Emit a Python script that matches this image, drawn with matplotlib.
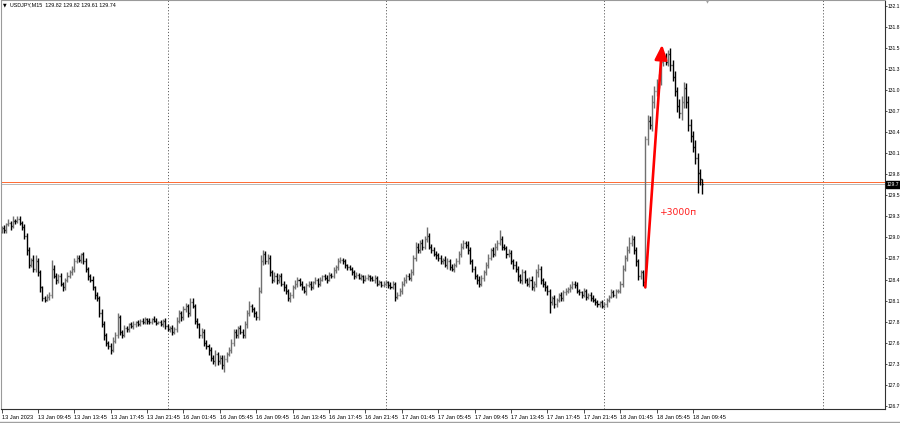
import numpy as np
import matplotlib
matplotlib.use("Agg")
import matplotlib.pyplot as plt
from matplotlib.collections import LineCollection
from matplotlib.lines import Line2D

# ---------------- data ----------------
header_text = "USDJPY,M15  129.82 129.82 129.61 129.74"
first_open = 129.10

close_13 = [129.15, 129.12, 129.20, 129.22, 129.18, 129.25, 129.24, 129.28, 129.22, 129.16,
            129.05, 128.85, 128.65, 128.72, 128.60, 128.70, 128.55, 128.35, 128.20, 128.18, 128.22, 128.25,
            128.60, 128.50, 128.45, 128.50, 128.40, 128.35, 128.45, 128.50, 128.55, 128.60, 128.70, 128.75, 128.72, 128.80,
            128.70, 128.60, 128.50, 128.45, 128.35, 128.25, 128.20, 128.00, 127.85, 127.70, 127.60, 127.55, 127.50, 127.62,
            127.70, 127.95, 127.75, 127.70, 127.80, 127.78, 127.85, 127.82, 127.85, 127.88, 127.85, 127.90,
            127.88, 127.92, 127.90, 127.88, 127.92, 127.90, 127.87, 127.88, 127.85, 127.90, 127.82]
close_16 = [127.78, 127.80, 127.75, 127.78,
            127.90, 128.00, 127.95, 128.05, 128.10, 128.00, 128.15, 128.10,
            127.90, 127.85, 127.70, 127.75, 127.60, 127.55, 127.50,
            127.40, 127.35, 127.45, 127.35, 127.40, 127.30, 127.38,
            127.45, 127.50, 127.60, 127.75, 127.70, 127.80, 127.75,
            127.70, 127.85, 128.00, 128.10, 128.05, 128.00, 127.95,
            128.30, 128.70, 128.80, 128.70, 128.75,
            128.55, 128.45, 128.50, 128.45, 128.50, 128.40, 128.35, 128.30,
            128.20, 128.25, 128.35, 128.40, 128.45,
            128.40, 128.35, 128.30, 128.38, 128.40, 128.35, 128.42, 128.45, 128.40, 128.45, 128.50, 128.48, 128.45, 128.52, 128.50,
            128.58, 128.62, 128.70, 128.72, 128.70, 128.65, 128.62,
            128.60, 128.55, 128.50, 128.52, 128.48, 128.50, 128.45, 128.48, 128.50, 128.47, 128.45, 128.48, 128.40, 128.42, 128.38, 128.40]
close_17 = [128.42, 128.38, 128.35, 128.40, 128.22,
            128.25, 128.30, 128.40, 128.45, 128.50, 128.48,
            128.55, 128.75, 128.90, 128.85, 128.95, 128.90, 129.00,
            129.05,
            128.90, 128.85, 128.80, 128.78, 128.75, 128.70, 128.72, 128.65, 128.70, 128.62, 128.60, 128.65, 128.70,
            128.80, 128.90, 128.95, 128.92, 128.85, 128.70, 128.60,
            128.50, 128.45, 128.40, 128.48, 128.55,
            128.65, 128.75, 128.85, 128.80, 128.90, 128.95, 129.00,
            128.90, 128.88, 128.80, 128.82, 128.70, 128.65, 128.60, 128.50, 128.45, 128.55, 128.45, 128.40, 128.45, 128.35,
            128.40, 128.55, 128.60, 128.45, 128.40, 128.35, 128.30,
            128.15,
            128.20, 128.12, 128.18, 128.25, 128.20, 128.28, 128.30, 128.32, 128.35, 128.40, 128.38, 128.30,
            128.28, 128.25, 128.30, 128.22, 128.25, 128.20, 128.18, 128.15, 128.12, 128.15, 128.10]
close_18 = [128.12, 128.18, 128.22, 128.28, 128.25, 128.30, 128.30,
            128.40, 128.60, 128.75, 128.85, 128.95,
            129.00, 128.85, 128.70, 128.50, 128.55, 128.42,
            130.35, 130.60, 130.55, 130.85, 131.00, 131.10, 131.15,
            131.40, 131.45, 131.40, 131.50, 131.35,
            131.20, 131.00, 130.80, 130.70, 130.85, 131.05, 130.85,
            130.55, 130.40, 130.25, 130.10, 129.90, 129.82, 129.74]

# wick extents above / below the bar body, in 0.01 yen
wick_up_13 = [3, 4, 2, 5, 3, 6, 2, 4, 3, 2,
              4, 3, 5, 3, 6, 8, 4, 3, 2, 3, 4, 3,
              12, 5, 4, 3, 4, 2, 3, 5, 3, 4, 5, 3, 4, 2,
              3, 4, 2, 3, 5, 2, 4, 3, 5, 4, 3, 2, 4, 6,
              4, 5, 3, 2, 4, 3, 2, 3, 4, 2, 3, 2, 4, 3, 2, 3, 2, 4, 3, 2, 3, 2, 3]
wick_dn_13 = [2, 3, 4, 2, 5, 3, 4, 2, 3, 4,
              5, 6, 4, 3, 5, 4, 5, 6, 4, 3, 2, 4,
              4, 3, 5, 4, 3, 5, 4, 3, 2, 3, 4, 2, 3, 4,
              3, 4, 5, 3, 4, 6, 3, 5, 4, 6, 5, 4, 5, 3,
              3, 4, 5, 3, 2, 4, 3, 2, 3, 4, 2, 3, 2, 3, 4, 2, 3, 2, 3, 2, 3, 4, 3]
wick_up_16 = [3, 2, 4, 3,
              5, 4, 3, 5, 4, 3, 6, 5,
              3, 4, 2, 5, 3, 4, 3,
              4, 3, 5, 3, 4, 3, 6,
              3, 4, 5, 3, 4, 3, 4,
              3, 5, 4, 6, 3, 4, 3,
              5, 8, 6, 4, 5,
              4, 3, 5, 4, 3, 4, 3, 5,
              3, 4, 3, 5, 4,
              3, 4, 2, 3, 4, 3, 2, 4, 3, 4, 2, 3, 4, 3, 2,
              4, 3, 5, 4, 3, 3, 2,
              3, 2, 4, 3, 2, 3, 2, 4, 3, 2, 3, 4, 2, 3, 2, 3]
wick_dn_16 = [2, 3, 4, 3,
              4, 3, 5, 4, 3, 5, 4, 3,
              4, 5, 3, 4, 5, 4, 6,
              5, 4, 6, 5, 4, 5, 9,
              4, 3, 4, 5, 3, 4, 3,
              4, 3, 5, 4, 3, 5, 4,
              4, 3, 5, 4, 3,
              5, 4, 3, 6, 4, 3, 5, 4,
              3, 5, 4, 3, 4,
              3, 4, 3, 5, 3, 4, 3, 2, 4, 3, 2, 3, 4, 2, 3,
              3, 4, 3, 2, 3, 4, 3,
              2, 3, 4, 3, 2, 3, 4, 2, 3, 3, 2, 4, 3, 2, 3, 2]
wick_up_17 = [3, 2, 4, 3, 2,
              3, 4, 3, 4, 3, 4,
              5, 4, 6, 5, 4, 5, 4,
              11,
              4, 3, 5, 4, 3, 4, 3, 5, 4, 3, 4, 3, 5,
              4, 5, 4, 3, 5, 4, 3,
              4, 3, 5, 4, 3,
              4, 5, 3, 4, 5, 4, 12,
              5, 4, 3, 5, 4, 3, 6, 4, 3, 5, 4, 3, 4, 5,
              4, 5, 6, 4, 3, 4, 3,
              3,
              3, 4, 3, 2, 4, 3, 4, 3, 5, 4, 3, 4,
              3, 2, 4, 3, 2, 3, 4, 2, 3, 2, 3]
wick_dn_17 = [3, 4, 3, 2, 5,
              3, 2, 4, 3, 4, 3,
              4, 3, 5, 4, 3, 4, 3,
              4,
              3, 4, 3, 5, 4, 3, 4, 3, 5, 4, 3, 4, 3,
              3, 4, 3, 4, 5, 4, 5,
              4, 5, 4, 3, 4,
              3, 4, 3, 4, 3, 4, 3,
              4, 3, 5, 4, 3, 5, 4, 6, 4, 5, 4, 3, 5, 4,
              5, 4, 6, 5, 4, 5, 6,
              15,
              4, 5, 4, 3, 4, 3, 4, 3, 4, 3, 4, 3,
              3, 4, 3, 4, 3, 4, 3, 4, 3, 4, 3]
wick_up_18 = [3, 2, 3, 4, 3, 2, 3,
              4, 5, 4, 6, 8,
              6, 5, 4, 3, 4, 3,
              5, 8, 6, 10, 7, 6, 8,
              6, 5, 7, 6, 8,
              7, 8, 6, 9, 8, 7, 6,
              8, 7, 6, 9, 7, 5, 0]
wick_dn_18 = [3, 4, 3, 2, 3, 4, 3,
              3, 4, 3, 5, 4,
              4, 5, 6, 5, 4, 5,
              8, 7, 6, 8, 7, 6, 5,
              7, 6, 5, 6, 8,
              6, 7, 8, 6, 9, 7, 8,
              9, 8, 7, 8, 28, 9, 13]

# price axis labels (as visible in the narrow price scale) and time axis labels
price_ticks = [132.160, 131.875, 131.590, 131.305, 131.020, 130.735, 130.450, 130.165,
               129.880, 129.595, 129.310, 129.025, 128.740, 128.455, 128.170, 127.885,
               127.600, 127.315, 127.030, 126.745]
price_tick_labels = ["132.1", "131.8", "131.5", "131.3", "131.0", "130.7", "130.4", "130.1",
                     "129.8", "129.5", "129.3", "129.0", "128.7", "128.4", "128.1", "127.8",
                     "127.6", "127.3", "127.0", "126.7"]
time_tick_bars = [0, 16, 32, 48, 64, 80, 96, 112, 128, 144, 160, 176, 192, 208, 224,
                  240, 256, 272, 288, 304]
time_tick_labels = ["13 Jan 2023", "13 Jan 09:45", "13 Jan 13:45", "13 Jan 17:45", "13 Jan 21:45",
                    "16 Jan 01:45", "16 Jan 05:45", "16 Jan 09:45", "16 Jan 13:45", "16 Jan 17:45",
                    "16 Jan 21:45", "17 Jan 01:45", "17 Jan 05:45", "17 Jan 09:45", "17 Jan 13:45",
                    "17 Jan 17:45", "17 Jan 21:45", "18 Jan 01:45", "18 Jan 05:45", "18 Jan 09:45"]
day_separator_bars = [73, 169, 265, 361]
bid_price = 129.74
bid_tag = "129.7"
ask_price = 129.78
arrow_from = (283.0, 128.35)
arrow_to = (290.4, 131.63)
move_label = "+3000п"
move_label_pos = (289.3, 129.36)
shift_marker_bar = 310.2

# ---------------- build OHLC ----------------
closes = np.array(close_13 + close_16 + close_17 + close_18)
w_up = np.array(wick_up_13 + wick_up_16 + wick_up_17 + wick_up_18) / 100.0
w_dn = np.array(wick_dn_13 + wick_dn_16 + wick_dn_17 + wick_dn_18) / 100.0
opens = np.concatenate([[first_open], closes[:-1]])
highs = np.maximum(opens, closes) + w_up
lows = np.minimum(opens, closes) - w_dn
n = len(closes)
idx = np.arange(n)

# ---------------- figure ----------------
W, H = 900, 423
fig = plt.figure(figsize=(W / 100, H / 100), dpi=100)
fig.patch.set_facecolor("white")
ax_left, ax_right, ax_top, ax_bot = 0.5, 884.5, 0.5, 409
ax = fig.add_axes([ax_left / W, 1 - ax_bot / H, (ax_right - ax_left) / W, (ax_bot - ax_top) / H])
ax.set_facecolor("white")

px_per_bar = 2.276
YMIN, YMAX = 126.704, 132.228
ax.set_xlim(-0.45, (ax_right - 1) / px_per_bar)
ax.set_ylim(YMIN, YMAX)

up = closes >= opens
segs_up, segs_dn = [], []
for i in idx:
    s = [((i, lows[i]), (i, highs[i])),
         ((i - 0.45, opens[i]), (i, opens[i])),
         ((i, closes[i]), (i + 0.45, closes[i]))]
    (segs_up if up[i] else segs_dn).extend(s)
ax.add_collection(LineCollection(segs_up, colors="#707070", linewidths=1.0, zorder=3))
ax.add_collection(LineCollection(segs_dn, colors="#000000", linewidths=1.0, zorder=3))

# day separators
for b in day_separator_bars:
    ax.axvline(b, color="#606060", lw=0.7, linestyle=(0, (1.2, 2.0)), zorder=1)

# bid / ask lines
ax.axhline(ask_price, color="#ff6a30", lw=0.7, zorder=2)
ax.axhline(bid_price, color="#b8b8b8", lw=0.7, zorder=2)

# arrow and annotation
ax.annotate("", xy=arrow_to, xytext=arrow_from,
            arrowprops=dict(arrowstyle="-|>,head_width=0.34,head_length=0.8",
                            color="#ff0000", lw=1.9, shrinkA=0, shrinkB=0,
                            mutation_scale=11), zorder=5)
ax.text(move_label_pos[0], move_label_pos[1], move_label, color="#ff1a1a",
        fontsize=6.6, family="DejaVu Sans", va="center", ha="left", zorder=5)

# spines
for side in ["left", "top"]:
    ax.spines[side].set_color("#9a9a9a")
    ax.spines[side].set_linewidth(0.8)
for side in ["right", "bottom"]:
    ax.spines[side].set_color("#303030")
    ax.spines[side].set_linewidth(0.8)

# price axis
ax.yaxis.tick_right()
ax.set_yticks(price_ticks)
ax.set_yticklabels(price_tick_labels)
ax.tick_params(axis="y", which="both", direction="out", length=1.5, width=0.6,
               color="#303030", pad=0.4, labelsize=3.6, labelcolor="#000000")
for lab in ax.get_yticklabels():
    lab.set_family("Liberation Sans")

# time axis
ax.set_xticks(time_tick_bars)
ax.set_xticklabels(time_tick_labels)
ax.tick_params(axis="x", which="both", direction="out", length=3, width=0.6,
               color="#303030", pad=1.5, labelsize=4.1, labelcolor="#000000")
for lab in ax.get_xticklabels():
    lab.set_family("Liberation Sans")
    lab.set_horizontalalignment("left")

# current price tag on the axis
ax.text(1.0022, (bid_price - YMIN) / (YMAX - YMIN), bid_tag,
        transform=ax.transAxes, fontsize=3.6, family="Liberation Sans", color="white",
        va="center", ha="left", zorder=6,
        bbox=dict(boxstyle="square,pad=0.18", fc="#000000", ec="#000000"),
        clip_on=False)

# chart-shift marker at the top
ax.plot([shift_marker_bar], [YMAX], marker="v", markersize=3.2, color="#a0a0a0",
        clip_on=False, zorder=6, markeredgewidth=0)

# header
fig.text(3 / W, 1 - 5 / H, "▼", fontsize=3.4, family="DejaVu Sans", va="center", ha="left")
fig.text(10 / W, 1 - 5 / H, header_text, fontsize=3.9, family="Liberation Sans",
         va="center", ha="left")

# bottom window border
fig.add_artist(Line2D([0, 1], [1 - 421.5 / H, 1 - 421.5 / H], color="#a0a0a0", lw=1.0,
                      transform=fig.transFigure))

fig.savefig("out.png", dpi=100)
